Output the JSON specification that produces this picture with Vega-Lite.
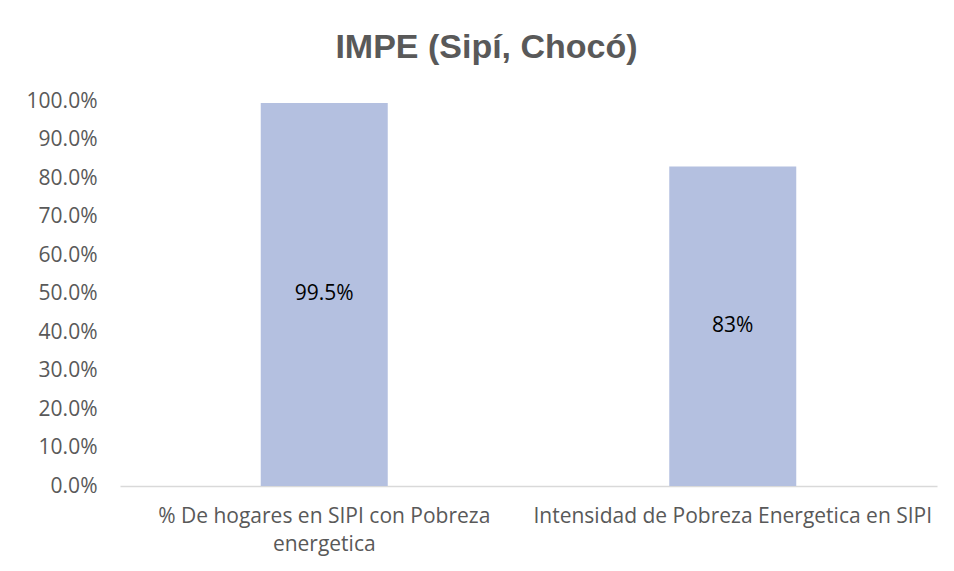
{
  "$schema": "https://vega.github.io/schema/vega-lite/v6.json",
  "autosize": "none",
  "width": 817,
  "height": 385,
  "padding": {"left": 120, "top": 101, "right": 17, "bottom": 85},
  "background": "white",
  "title": {
    "text": "IMPE (Sipí, Chocó)",
    "font": "Liberation Sans",
    "fontSize": 34,
    "fontWeight": "bold",
    "color": "#595959",
    "anchor": "middle",
    "baseline": "alphabetic",
    "offset": -2,
    "dx": -42
  },
  "data": {
    "values": [
      {"categoria": "% De hogares en SIPI con Pobreza energetica", "valor": 0.995, "etiqueta": "99.5%"},
      {"categoria": "Intensidad de Pobreza Energetica en SIPI", "valor": 0.83, "etiqueta": "83%"}
    ]
  },
  "encoding": {
    "x": {
      "field": "categoria",
      "type": "nominal",
      "sort": null,
      "scale": {"paddingInner": 0, "paddingOuter": 0},
      "axis": {
        "title": null,
        "labelAngle": 0,
        "labelFont": "Open Sans",
        "labelFontSize": 21,
        "labelColor": "#595959",
        "labelPadding": 19,
        "labelLimit": 600,
        "labelLineHeight": 28,
        "labelExpr": "datum.value == '% De hogares en SIPI con Pobreza energetica' ? ['% De hogares en SIPI con Pobreza', 'energetica'] : datum.value",
        "ticks": false,
        "domainColor": "#d9d9d9",
        "domainWidth": 1.5,
        "grid": false
      }
    }
  },
  "layer": [
    {
      "mark": {"type": "bar", "size": 127, "color": "#b4c0e0"},
      "encoding": {
        "y": {
          "field": "valor",
          "type": "quantitative",
          "scale": {"domain": [0, 1], "nice": false},
          "axis": {
            "title": null,
            "format": ".1%",
            "values": [0, 0.1, 0.2, 0.3, 0.4, 0.5, 0.6, 0.7, 0.8, 0.9, 1.0],
            "labelOverlap": false,
            "labelFont": "Open Sans",
            "labelFontSize": 21,
            "labelColor": "#595959",
            "labelPadding": 23,
            "ticks": false,
            "domain": false,
            "grid": false
          }
        }
      }
    },
    {
      "transform": [{"calculate": "datum.valor / 2", "as": "mitad"}],
      "mark": {"type": "text", "font": "Open Sans", "fontSize": 21, "color": "#000000"},
      "encoding": {
        "y": {
          "field": "mitad",
          "type": "quantitative",
          "scale": {"domain": [0, 1], "nice": false},
          "axis": {
            "title": null,
            "format": ".1%",
            "values": [0, 0.1, 0.2, 0.3, 0.4, 0.5, 0.6, 0.7, 0.8, 0.9, 1.0],
            "labelOverlap": false,
            "labelFont": "Open Sans",
            "labelFontSize": 21,
            "labelColor": "#595959",
            "labelPadding": 23,
            "ticks": false,
            "domain": false,
            "grid": false
          }
        },
        "text": {"field": "etiqueta"}
      }
    }
  ],
  "config": {"view": {"stroke": null}}
}
